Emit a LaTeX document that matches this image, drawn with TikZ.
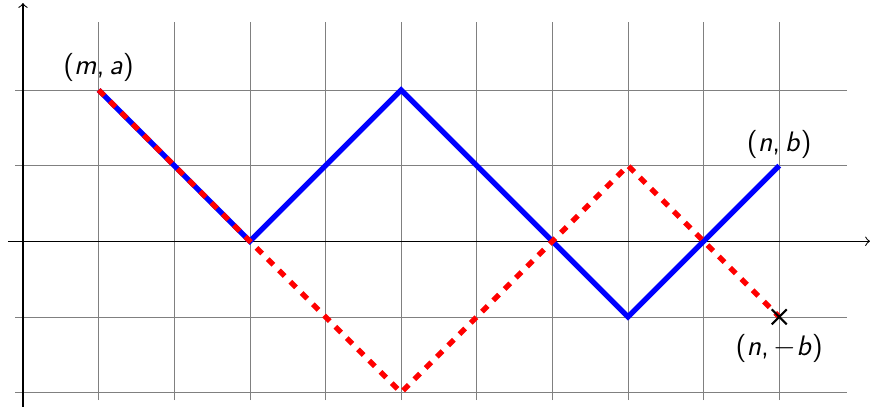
\documentclass[tikz,border=0pt]{standalone}
\usetikzlibrary{shapes.misc}

\begin{document}
\begin{tikzpicture}[
  font=\sffamily,
  gridline/.style={gray, very thin},
  axisline/.style={->, thin},
  upath/.style={blue, line width=2pt},
  rpath/.style={red, line width=2pt, dash pattern=on 3pt off 3pt},
  plab/.style={inner sep=1pt, font=\sffamily\fontsize{10.6}{12}\selectfont}
]
\useasboundingbox (-0.304,-2.18) rectangle (11.2,3.19);
\draw[gridline] (-0.1,-2.1) grid (10.9,2.9);
\draw[axisline] (-0.2,0) -- (11.2,0);
\draw[axisline] (0,-2.2) -- (0,3.15);
% lattice points
\coordinate (start) at (1,2);
\coordinate (touch) at (3,0);
\coordinate (peak)  at (5,2);
\coordinate (low)   at (8,-1);
\coordinate (dip)   at (5,-2);
\coordinate (high)  at (8,1);
\coordinate (fin)   at (10,1);
\coordinate (mirr)  at (10,-1);
\draw[upath] (start) -- (touch) -- (peak) -- (low) -- (fin);
\draw[rpath] (start) -- (touch) -- (dip) -- (high) -- (mirr);
\node[cross out, draw, thick, minimum size=0.17cm, inner sep=0pt] (xmark) at (mirr) {};
\node[plab] (lstart) at (1,2.3)   {(\textit{m},\,\textit{a})};
\node[plab] (lfin)   at (10,1.28) {(\textit{n},\,\textit{b})};
\node[plab] (lmirr)  at (10,-1.42) {(\textit{n},\,$-$\textit{b})};
\end{tikzpicture}
\end{document}
